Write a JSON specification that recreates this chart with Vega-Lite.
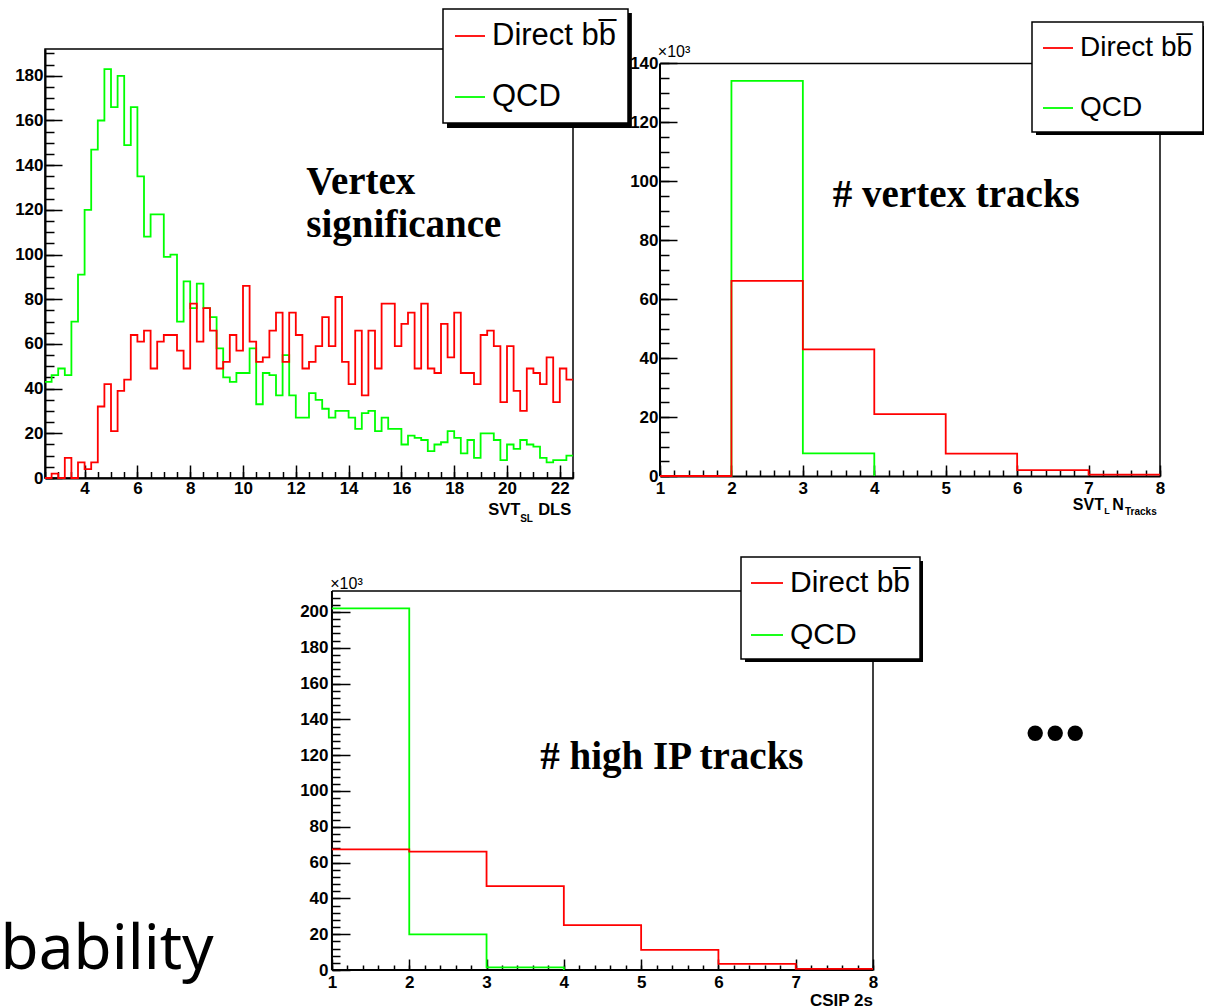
{
"$schema": "https://vega.github.io/schema/vega-lite/v6.json",
"padding": {"left": 0, "top": 7, "right": 0, "bottom": 0},
"background": "white",
"datasets": {
"vs": [
{"s":"QCD","x":2.5,"n":43},{"s":"QCD","x":2.75,"n":46},{"s":"QCD","x":3.0,"n":49},{"s":"QCD","x":3.25,"n":46},{"s":"QCD","x":3.5,"n":70},{"s":"QCD","x":3.75,"n":91},{"s":"QCD","x":4.0,"n":120},{"s":"QCD","x":4.25,"n":147},{"s":"QCD","x":4.5,"n":160},{"s":"QCD","x":4.75,"n":183},
{"s":"QCD","x":5.0,"n":166},{"s":"QCD","x":5.25,"n":180},{"s":"QCD","x":5.5,"n":149},{"s":"QCD","x":5.75,"n":166},{"s":"QCD","x":6.0,"n":135},{"s":"QCD","x":6.25,"n":108},{"s":"QCD","x":6.5,"n":118},{"s":"QCD","x":6.75,"n":118},{"s":"QCD","x":7.0,"n":99},{"s":"QCD","x":7.25,"n":100},
{"s":"QCD","x":7.5,"n":70},{"s":"QCD","x":7.75,"n":88},{"s":"QCD","x":8.0,"n":76},{"s":"QCD","x":8.25,"n":87},{"s":"QCD","x":8.5,"n":76},{"s":"QCD","x":8.75,"n":72},{"s":"QCD","x":9.0,"n":58},{"s":"QCD","x":9.25,"n":45},{"s":"QCD","x":9.5,"n":43},{"s":"QCD","x":9.75,"n":47},
{"s":"QCD","x":10.0,"n":47},{"s":"QCD","x":10.25,"n":58},{"s":"QCD","x":10.5,"n":33},{"s":"QCD","x":10.75,"n":47},{"s":"QCD","x":11.0,"n":46},{"s":"QCD","x":11.25,"n":37},{"s":"QCD","x":11.5,"n":55},{"s":"QCD","x":11.75,"n":37},{"s":"QCD","x":12.0,"n":27},{"s":"QCD","x":12.25,"n":27},
{"s":"QCD","x":12.5,"n":38},{"s":"QCD","x":12.75,"n":35},{"s":"QCD","x":13.0,"n":31},{"s":"QCD","x":13.25,"n":27},{"s":"QCD","x":13.5,"n":30},{"s":"QCD","x":13.75,"n":30},{"s":"QCD","x":14.0,"n":27},{"s":"QCD","x":14.25,"n":22},{"s":"QCD","x":14.5,"n":29},{"s":"QCD","x":14.75,"n":30},
{"s":"QCD","x":15.0,"n":21},{"s":"QCD","x":15.25,"n":27},{"s":"QCD","x":15.5,"n":22},{"s":"QCD","x":15.75,"n":22},{"s":"QCD","x":16.0,"n":15},{"s":"QCD","x":16.25,"n":19},{"s":"QCD","x":16.5,"n":18},{"s":"QCD","x":16.75,"n":17},{"s":"QCD","x":17.0,"n":12},{"s":"QCD","x":17.25,"n":15},
{"s":"QCD","x":17.5,"n":16},{"s":"QCD","x":17.75,"n":21},{"s":"QCD","x":18.0,"n":18},{"s":"QCD","x":18.25,"n":11},{"s":"QCD","x":18.5,"n":17},{"s":"QCD","x":18.75,"n":9},{"s":"QCD","x":19.0,"n":20},{"s":"QCD","x":19.25,"n":20},{"s":"QCD","x":19.5,"n":17},{"s":"QCD","x":19.75,"n":8},
{"s":"QCD","x":20.0,"n":15},{"s":"QCD","x":20.25,"n":13},{"s":"QCD","x":20.5,"n":17},{"s":"QCD","x":20.75,"n":15},{"s":"QCD","x":21.0,"n":14},{"s":"QCD","x":21.25,"n":9},{"s":"QCD","x":21.5,"n":7},{"s":"QCD","x":21.75,"n":8},{"s":"QCD","x":22.0,"n":8},{"s":"QCD","x":22.25,"n":10},{"s":"QCD","x":22.5,"n":10},
{"s":"Direct bb\u0305","x":2.5,"n":0},{"s":"Direct bb\u0305","x":2.75,"n":2},{"s":"Direct bb\u0305","x":3.0,"n":0},{"s":"Direct bb\u0305","x":3.25,"n":9},{"s":"Direct bb\u0305","x":3.5,"n":0},{"s":"Direct bb\u0305","x":3.75,"n":7},{"s":"Direct bb\u0305","x":4.0,"n":4},{"s":"Direct bb\u0305","x":4.25,"n":7},{"s":"Direct bb\u0305","x":4.5,"n":32},{"s":"Direct bb\u0305","x":4.75,"n":42},
{"s":"Direct bb\u0305","x":5.0,"n":21},{"s":"Direct bb\u0305","x":5.25,"n":39},{"s":"Direct bb\u0305","x":5.5,"n":44},{"s":"Direct bb\u0305","x":5.75,"n":64},{"s":"Direct bb\u0305","x":6.0,"n":61},{"s":"Direct bb\u0305","x":6.25,"n":66},{"s":"Direct bb\u0305","x":6.5,"n":49},{"s":"Direct bb\u0305","x":6.75,"n":61},{"s":"Direct bb\u0305","x":7.0,"n":64},{"s":"Direct bb\u0305","x":7.25,"n":64},
{"s":"Direct bb\u0305","x":7.5,"n":57},{"s":"Direct bb\u0305","x":7.75,"n":49},{"s":"Direct bb\u0305","x":8.0,"n":78},{"s":"Direct bb\u0305","x":8.25,"n":61},{"s":"Direct bb\u0305","x":8.5,"n":76},{"s":"Direct bb\u0305","x":8.75,"n":66},{"s":"Direct bb\u0305","x":9.0,"n":49},{"s":"Direct bb\u0305","x":9.25,"n":52},{"s":"Direct bb\u0305","x":9.5,"n":64},{"s":"Direct bb\u0305","x":9.75,"n":57},
{"s":"Direct bb\u0305","x":10.0,"n":86},{"s":"Direct bb\u0305","x":10.25,"n":61},{"s":"Direct bb\u0305","x":10.5,"n":52},{"s":"Direct bb\u0305","x":10.75,"n":54},{"s":"Direct bb\u0305","x":11.0,"n":66},{"s":"Direct bb\u0305","x":11.25,"n":74},{"s":"Direct bb\u0305","x":11.5,"n":52},{"s":"Direct bb\u0305","x":11.75,"n":74},{"s":"Direct bb\u0305","x":12.0,"n":64},{"s":"Direct bb\u0305","x":12.25,"n":49},
{"s":"Direct bb\u0305","x":12.5,"n":52},{"s":"Direct bb\u0305","x":12.75,"n":59},{"s":"Direct bb\u0305","x":13.0,"n":72},{"s":"Direct bb\u0305","x":13.25,"n":59},{"s":"Direct bb\u0305","x":13.5,"n":81},{"s":"Direct bb\u0305","x":13.75,"n":52},{"s":"Direct bb\u0305","x":14.0,"n":42},{"s":"Direct bb\u0305","x":14.25,"n":66},{"s":"Direct bb\u0305","x":14.5,"n":37},{"s":"Direct bb\u0305","x":14.75,"n":66},
{"s":"Direct bb\u0305","x":15.0,"n":49},{"s":"Direct bb\u0305","x":15.25,"n":78},{"s":"Direct bb\u0305","x":15.5,"n":78},{"s":"Direct bb\u0305","x":15.75,"n":59},{"s":"Direct bb\u0305","x":16.0,"n":69},{"s":"Direct bb\u0305","x":16.25,"n":74},{"s":"Direct bb\u0305","x":16.5,"n":49},{"s":"Direct bb\u0305","x":16.75,"n":78},{"s":"Direct bb\u0305","x":17.0,"n":49},{"s":"Direct bb\u0305","x":17.25,"n":47},
{"s":"Direct bb\u0305","x":17.5,"n":69},{"s":"Direct bb\u0305","x":17.75,"n":54},{"s":"Direct bb\u0305","x":18.0,"n":74},{"s":"Direct bb\u0305","x":18.25,"n":47},{"s":"Direct bb\u0305","x":18.5,"n":47},{"s":"Direct bb\u0305","x":18.75,"n":42},{"s":"Direct bb\u0305","x":19.0,"n":64},{"s":"Direct bb\u0305","x":19.25,"n":66},{"s":"Direct bb\u0305","x":19.5,"n":59},{"s":"Direct bb\u0305","x":19.75,"n":34},
{"s":"Direct bb\u0305","x":20.0,"n":59},{"s":"Direct bb\u0305","x":20.25,"n":39},{"s":"Direct bb\u0305","x":20.5,"n":30},{"s":"Direct bb\u0305","x":20.75,"n":49},{"s":"Direct bb\u0305","x":21.0,"n":47},{"s":"Direct bb\u0305","x":21.25,"n":42},{"s":"Direct bb\u0305","x":21.5,"n":54},{"s":"Direct bb\u0305","x":21.75,"n":34},{"s":"Direct bb\u0305","x":22.0,"n":49},{"s":"Direct bb\u0305","x":22.25,"n":44},{"s":"Direct bb\u0305","x":22.5,"n":44}
],
"vt": [
{"s":"QCD","x":1,"n":0},{"s":"QCD","x":2,"n":134.1},{"s":"QCD","x":3,"n":7.7},{"s":"QCD","x":4,"n":0},
{"s":"Direct bb\u0305","x":1,"n":0},{"s":"Direct bb\u0305","x":2,"n":66.2},{"s":"Direct bb\u0305","x":3,"n":43.0},{"s":"Direct bb\u0305","x":4,"n":21.0},{"s":"Direct bb\u0305","x":5,"n":7.6},{"s":"Direct bb\u0305","x":6,"n":2.0},{"s":"Direct bb\u0305","x":7,"n":0.5},{"s":"Direct bb\u0305","x":8,"n":0.5}
],
"ip": [
{"s":"QCD","x":1,"n":202},{"s":"QCD","x":2,"n":19.9},{"s":"QCD","x":3,"n":1.5},{"s":"QCD","x":4,"n":0},
{"s":"Direct bb\u0305","x":1,"n":67.4},{"s":"Direct bb\u0305","x":2,"n":66.1},{"s":"Direct bb\u0305","x":3,"n":46.9},{"s":"Direct bb\u0305","x":4,"n":25.1},{"s":"Direct bb\u0305","x":5,"n":11.2},{"s":"Direct bb\u0305","x":6,"n":3.4},{"s":"Direct bb\u0305","x":7,"n":0.6},{"s":"Direct bb\u0305","x":8,"n":0.6}
]
},
"config": {
"view": {"stroke": "black", "strokeWidth": 1.5},
"axis": {"grid": false, "domainColor": "black", "domainWidth": 2, "tickColor": "black", "tickWidth": 1.5, "labelColor": "black", "labelFont": "Liberation Sans", "labelFontWeight": "bold", "labelFontSize": 17, "labelFlush": false, "labelOverlap": false},
"legend": {"strokeColor": "black", "fillColor": "white", "strokeWidth": 1.5, "symbolType": "stroke", "symbolStrokeWidth": 1.8, "labelColor": "black", "cornerRadius": 0},
"line": {"strokeWidth": 1.8},
"text": {"color": "black"}
},
"spacing": 31,
"resolve": {"scale": {"color": "independent"}, "legend": {"color": "independent"}},
"vconcat": [
{
"bounds": "flush",
"spacing": 87,
"resolve": {"scale": {"color": "independent"}, "legend": {"color": "independent"}},
"hconcat": [
{
"width": 528, "height": 429,
"data": {"name": "vs"},
"resolve": {"axis": {"x": "independent", "y": "independent"}},
"layer": [
{
"data": {"values": [{}]},
"mark": {"type": "rect", "color": "black"},
"encoding": {"x": {"datum": 17.727, "type": "quantitative", "scale": {"domain": [2.5, 22.5], "nice": false, "zero": false}, "axis": null}, "x2": {"datum": 24.73}, "y": {"datum": 208.11, "type": "quantitative", "scale": {"domain": [0, 192], "nice": false, "zero": false}, "axis": null}, "y2": {"datum": 156.6}}
},
{
"transform": [{"filter": "datum.s == 'QCD'"}],
"mark": {"type": "line", "interpolate": "step-after"},
"encoding": {
"x": {"field": "x", "type": "quantitative", "scale": {"domain": [2.5, 22.5], "nice": false, "zero": false}, "axis": {"orient": "bottom", "title": null, "values": [4,6,8,10,12,14,16,18,20,22], "tickSize": -13, "labelPadding": 15}},
"y": {"field": "n", "type": "quantitative", "scale": {"domain": [0, 192], "nice": false, "zero": false}, "axis": {"orient": "left", "title": null, "values": [0,20,40,60,80,100,120,140,160,180], "tickSize": -17, "labelPadding": 19}},
"color": {"field": "s", "type": "nominal", "scale": {"domain": ["Direct bb\u0305", "QCD"], "range": ["#ff0000", "#00ff00"]}, "legend": {"title": null, "orient": "none", "legendX": 398, "legendY": -40, "labelFont": "Liberation Sans", "labelFontSize": 31, "symbolSize": 900, "rowPadding": 30, "padding": 11, "labelOffset": 6, "labelLimit": 400}}
}
},
{
"transform": [{"filter": "datum.s != 'QCD'"}],
"mark": {"type": "line", "interpolate": "step-after"},
"encoding": {
"x": {"field": "x", "type": "quantitative", "scale": {"domain": [2.5, 22.5], "nice": false, "zero": false}, "axis": {"orient": "bottom", "title": null, "values": [2.5,3,3.5,4,4.5,5,5.5,6,6.5,7,7.5,8,8.5,9,9.5,10,10.5,11,11.5,12,12.5,13,13.5,14,14.5,15,15.5,16,16.5,17,17.5,18,18.5,19,19.5,20,20.5,21,21.5,22,22.5], "tickSize": -6.5, "labels": false, "domain": false}},
"y": {"field": "n", "type": "quantitative", "scale": {"domain": [0, 192], "nice": false, "zero": false}, "axis": {"orient": "left", "title": null, "values": [0,5,10,15,20,25,30,35,40,45,50,55,60,65,70,75,80,85,90,95,100,105,110,115,120,125,130,135,140,145,150,155,160,165,170,175,180,185,190], "tickSize": -9, "labels": false, "domain": false}},
"color": {"field": "s", "type": "nominal", "scale": {"domain": ["Direct bb\u0305", "QCD"], "range": ["#ff0000", "#00ff00"]}, "legend": {"title": null, "orient": "none", "legendX": 398, "legendY": -40, "labelFont": "Liberation Sans", "labelFontSize": 31, "symbolSize": 900, "rowPadding": 30, "padding": 11, "labelOffset": 6, "labelLimit": 400}}
}
},
{
"data": {"values": [{}]},
"mark": {"type": "text", "text": ["Vertex", "significance"], "align": "left", "baseline": "alphabetic", "font": "Liberation Serif", "fontWeight": "bold", "fontSize": 39, "lineHeight": 43},
"encoding": {"x": {"datum": 12.4, "type": "quantitative", "scale": {"domain": [2.5, 22.5], "nice": false, "zero": false}, "axis": null}, "y": {"datum": 127.1, "type": "quantitative", "scale": {"domain": [0, 192], "nice": false, "zero": false}, "axis": null}}
},
{
"data": {"values": [{}]},
"mark": {"type": "text", "text": "SVT", "align": "left", "baseline": "alphabetic", "font": "Liberation Sans", "fontWeight": "bold", "fontSize": 16.5},
"encoding": {"x": {"datum": 19.29, "type": "quantitative", "scale": {"domain": [2.5, 22.5], "nice": false, "zero": false}, "axis": null}, "y": {"datum": -16.6, "type": "quantitative", "scale": {"domain": [0, 192], "nice": false, "zero": false}, "axis": null}}
},
{
"data": {"values": [{}]},
"mark": {"type": "text", "text": "SL", "align": "left", "baseline": "alphabetic", "font": "Liberation Sans", "fontWeight": "bold", "fontSize": 10},
"encoding": {"x": {"datum": 20.5, "type": "quantitative", "scale": {"domain": [2.5, 22.5], "nice": false, "zero": false}, "axis": null}, "y": {"datum": -19.7, "type": "quantitative", "scale": {"domain": [0, 192], "nice": false, "zero": false}, "axis": null}}
},
{
"data": {"values": [{}]},
"mark": {"type": "text", "text": "DLS", "align": "left", "baseline": "alphabetic", "font": "Liberation Sans", "fontWeight": "bold", "fontSize": 16.5},
"encoding": {"x": {"datum": 21.18, "type": "quantitative", "scale": {"domain": [2.5, 22.5], "nice": false, "zero": false}, "axis": null}, "y": {"datum": -16.6, "type": "quantitative", "scale": {"domain": [0, 192], "nice": false, "zero": false}, "axis": null}}
}
]
},
{
"width": 500, "height": 427,
"data": {"name": "vt"},
"view": {"stroke": null},
"resolve": {"axis": {"x": "independent", "y": "independent"}},
"layer": [
{
"data": {"values": [{}]},
"mark": {"type": "rect", "color": "black"},
"encoding": {"x": {"datum": 6.264, "type": "quantitative", "scale": {"domain": [1, 8], "nice": false, "zero": false}, "axis": null}, "x2": {"datum": 8.616}, "y": {"datum": 152.7, "type": "quantitative", "scale": {"domain": [0, 144.9], "nice": false, "zero": false}, "axis": null}, "y2": {"datum": 115.7}}
},
{
"data": {"values": [{}]},
"mark": {"type": "rule", "color": "black", "strokeWidth": 1.5},
"encoding": {"x": {"datum": 1, "type": "quantitative", "scale": {"domain": [1, 8], "nice": false, "zero": false}, "axis": null}, "x2": {"datum": 8}, "y": {"datum": 140, "type": "quantitative", "scale": {"domain": [0, 144.9], "nice": false, "zero": false}, "axis": null}}
},
{
"data": {"values": [{}]},
"mark": {"type": "rule", "color": "black", "strokeWidth": 1.5},
"encoding": {"x": {"datum": 8, "type": "quantitative", "scale": {"domain": [1, 8], "nice": false, "zero": false}, "axis": null}, "y": {"datum": 0, "type": "quantitative", "scale": {"domain": [0, 144.9], "nice": false, "zero": false}, "axis": null}, "y2": {"datum": 140}}
},
{
"data": {"values": [{}]},
"mark": {"type": "rule", "color": "black", "strokeWidth": 2},
"encoding": {"x": {"datum": 1, "type": "quantitative", "scale": {"domain": [1, 8], "nice": false, "zero": false}, "axis": null}, "y": {"datum": 0, "type": "quantitative", "scale": {"domain": [0, 144.9], "nice": false, "zero": false}, "axis": null}, "y2": {"datum": 140}}
},
{
"transform": [{"filter": "datum.s == 'QCD'"}],
"mark": {"type": "line", "interpolate": "step-after"},
"encoding": {
"x": {"field": "x", "type": "quantitative", "scale": {"domain": [1, 8], "nice": false, "zero": false}, "axis": {"orient": "bottom", "title": null, "values": [1,2,3,4,5,6,7,8], "tickSize": -11, "labelPadding": 15}},
"y": {"field": "n", "type": "quantitative", "scale": {"domain": [0, 144.9], "nice": false, "zero": false}, "axis": {"orient": "left", "title": null, "values": [0,20,40,60,80,100,120,140], "tickSize": -17, "labelPadding": 19, "domain": false}},
"color": {"field": "s", "type": "nominal", "scale": {"domain": ["Direct bb\u0305", "QCD"], "range": ["#ff0000", "#00ff00"]}, "legend": {"title": null, "orient": "none", "legendX": 372, "legendY": -27, "labelFont": "Liberation Sans", "labelFontSize": 28, "symbolSize": 900, "rowPadding": 30, "padding": 10, "labelOffset": 6, "labelLimit": 400}}
}
},
{
"transform": [{"filter": "datum.s != 'QCD'"}],
"mark": {"type": "line", "interpolate": "step-after"},
"encoding": {
"x": {"field": "x", "type": "quantitative", "scale": {"domain": [1, 8], "nice": false, "zero": false}, "axis": {"orient": "bottom", "title": null, "values": [1,1.2,1.4,1.6,1.8,2,2.2,2.4,2.6,2.8,3,3.2,3.4,3.6,3.8,4,4.2,4.4,4.6,4.8,5,5.2,5.4,5.6,5.8,6,6.2,6.4,6.6,6.8,7,7.2,7.4,7.6,7.8,8], "tickSize": -6, "labels": false, "domain": false}},
"y": {"field": "n", "type": "quantitative", "scale": {"domain": [0, 144.9], "nice": false, "zero": false}, "axis": {"orient": "left", "title": null, "values": [0,5,10,15,20,25,30,35,40,45,50,55,60,65,70,75,80,85,90,95,100,105,110,115,120,125,130,135,140], "tickSize": -9, "labels": false, "domain": false}},
"color": {"field": "s", "type": "nominal", "scale": {"domain": ["Direct bb\u0305", "QCD"], "range": ["#ff0000", "#00ff00"]}, "legend": {"title": null, "orient": "none", "legendX": 372, "legendY": -27, "labelFont": "Liberation Sans", "labelFontSize": 28, "symbolSize": 900, "rowPadding": 30, "padding": 10, "labelOffset": 6, "labelLimit": 400}}
}
},
{
"data": {"values": [{}]},
"mark": {"type": "text", "text": "# vertex tracks", "align": "left", "baseline": "alphabetic", "font": "Liberation Serif", "fontWeight": "bold", "fontSize": 39},
"encoding": {"x": {"datum": 3.42, "type": "quantitative", "scale": {"domain": [1, 8], "nice": false, "zero": false}, "axis": null}, "y": {"datum": 91.4, "type": "quantitative", "scale": {"domain": [0, 144.9], "nice": false, "zero": false}, "axis": null}}
},
{
"data": {"values": [{}]},
"mark": {"type": "text", "text": "\u00d710\u00b3", "align": "left", "baseline": "alphabetic", "font": "Liberation Sans", "fontSize": 16},
"encoding": {"x": {"datum": 0.97, "type": "quantitative", "scale": {"domain": [1, 8], "nice": false, "zero": false}, "axis": null}, "y": {"datum": 142.3, "type": "quantitative", "scale": {"domain": [0, 144.9], "nice": false, "zero": false}, "axis": null}}
},
{
"data": {"values": [{}]},
"mark": {"type": "text", "text": "SVT", "align": "left", "baseline": "alphabetic", "font": "Liberation Sans", "fontWeight": "bold", "fontSize": 16},
"encoding": {"x": {"datum": 6.78, "type": "quantitative", "scale": {"domain": [1, 8], "nice": false, "zero": false}, "axis": null}, "y": {"datum": -11.4, "type": "quantitative", "scale": {"domain": [0, 144.9], "nice": false, "zero": false}, "axis": null}}
},
{
"data": {"values": [{}]},
"mark": {"type": "text", "text": "L", "align": "left", "baseline": "alphabetic", "font": "Liberation Sans", "fontWeight": "bold", "fontSize": 9},
"encoding": {"x": {"datum": 7.22, "type": "quantitative", "scale": {"domain": [1, 8], "nice": false, "zero": false}, "axis": null}, "y": {"datum": -12.8, "type": "quantitative", "scale": {"domain": [0, 144.9], "nice": false, "zero": false}, "axis": null}}
},
{
"data": {"values": [{}]},
"mark": {"type": "text", "text": "N", "align": "left", "baseline": "alphabetic", "font": "Liberation Sans", "fontWeight": "bold", "fontSize": 16},
"encoding": {"x": {"datum": 7.33, "type": "quantitative", "scale": {"domain": [1, 8], "nice": false, "zero": false}, "axis": null}, "y": {"datum": -11.4, "type": "quantitative", "scale": {"domain": [0, 144.9], "nice": false, "zero": false}, "axis": null}}
},
{
"data": {"values": [{}]},
"mark": {"type": "text", "text": "Tracks", "align": "left", "baseline": "alphabetic", "font": "Liberation Sans", "fontWeight": "bold", "fontSize": 10},
"encoding": {"x": {"datum": 7.51, "type": "quantitative", "scale": {"domain": [1, 8], "nice": false, "zero": false}, "axis": null}, "y": {"datum": -13.1, "type": "quantitative", "scale": {"domain": [0, 144.9], "nice": false, "zero": false}, "axis": null}}
}
]
}
]
},
{
"width": 828, "height": 379,
"data": {"name": "ip"},
"view": {"stroke": null},
"resolve": {"axis": {"x": "independent", "y": "independent"}},
"layer": [
{
"data": {"values": [{}]},
"mark": {"type": "rect", "color": "black"},
"encoding": {"x": {"datum": 6.344, "type": "quantitative", "scale": {"domain": [-2.7128, 8], "nice": false, "zero": false}, "axis": null}, "x2": {"datum": 8.647}, "y": {"datum": 228.46, "type": "quantitative", "scale": {"domain": [0, 211.7], "nice": false, "zero": false}, "axis": null}, "y2": {"datum": 172.04}}
},
{
"data": {"values": [{}]},
"mark": {"type": "rule", "color": "black", "strokeWidth": 1.5},
"encoding": {"x": {"datum": 1, "type": "quantitative", "scale": {"domain": [-2.7128, 8], "nice": false, "zero": false}, "axis": null}, "x2": {"datum": 8}, "y": {"datum": 211.7, "type": "quantitative", "scale": {"domain": [0, 211.7], "nice": false, "zero": false}, "axis": null}}
},
{
"data": {"values": [{}]},
"mark": {"type": "rule", "color": "black", "strokeWidth": 1.5},
"encoding": {"x": {"datum": 8, "type": "quantitative", "scale": {"domain": [-2.7128, 8], "nice": false, "zero": false}, "axis": null}, "y": {"datum": 0, "type": "quantitative", "scale": {"domain": [0, 211.7], "nice": false, "zero": false}, "axis": null}, "y2": {"datum": 211.7}}
},
{
"data": {"values": [{}]},
"mark": {"type": "rule", "color": "black", "strokeWidth": 2},
"encoding": {"x": {"datum": 1, "type": "quantitative", "scale": {"domain": [-2.7128, 8], "nice": false, "zero": false}, "axis": null}, "y": {"datum": 0, "type": "quantitative", "scale": {"domain": [0, 211.7], "nice": false, "zero": false}, "axis": null}, "y2": {"datum": 211.7}}
},
{
"data": {"values": [{}]},
"mark": {"type": "rule", "color": "black", "strokeWidth": 2},
"encoding": {"x": {"datum": 1, "type": "quantitative", "scale": {"domain": [-2.7128, 8], "nice": false, "zero": false}, "axis": null}, "x2": {"datum": 8}, "y": {"datum": 0, "type": "quantitative", "scale": {"domain": [0, 211.7], "nice": false, "zero": false}, "axis": null}}
},
{
"transform": [{"filter": "datum.s == 'QCD'"}],
"mark": {"type": "line", "interpolate": "step-after"},
"encoding": {
"x": {"field": "x", "type": "quantitative", "scale": {"domain": [-2.7128, 8], "nice": false, "zero": false}, "axis": {"orient": "bottom", "title": null, "values": [1,2,3,4,5,6,7,8], "tickSize": -11, "labelPadding": 15, "domain": false}},
"y": {"field": "n", "type": "quantitative", "scale": {"domain": [0, 211.7], "nice": false, "zero": false}, "axis": {"orient": "left", "title": null, "values": [0,20,40,60,80,100,120,140,160,180,200], "tickSize": -18, "labelPadding": 22, "domain": false, "offset": -287}},
"color": {"field": "s", "type": "nominal", "scale": {"domain": ["Direct bb\u0305", "QCD"], "range": ["#ff0000", "#00ff00"]}, "legend": {"title": null, "orient": "none", "legendX": 696, "legendY": -34, "labelFont": "Liberation Sans", "labelFontSize": 30, "symbolSize": 1024, "rowPadding": 20, "padding": 9, "labelOffset": 6, "labelLimit": 400}}
}
},
{
"transform": [{"filter": "datum.s != 'QCD'"}],
"mark": {"type": "line", "interpolate": "step-after"},
"encoding": {
"x": {"field": "x", "type": "quantitative", "scale": {"domain": [-2.7128, 8], "nice": false, "zero": false}, "axis": {"orient": "bottom", "title": null, "values": [1,1.2,1.4,1.6,1.8,2,2.2,2.4,2.6,2.8,3,3.2,3.4,3.6,3.8,4,4.2,4.4,4.6,4.8,5,5.2,5.4,5.6,5.8,6,6.2,6.4,6.6,6.8,7,7.2,7.4,7.6,7.8,8], "tickSize": -5, "labels": false, "domain": false}},
"y": {"field": "n", "type": "quantitative", "scale": {"domain": [0, 211.7], "nice": false, "zero": false}, "axis": {"orient": "left", "title": null, "values": [0,4,8,12,16,20,24,28,32,36,40,44,48,52,56,60,64,68,72,76,80,84,88,92,96,100,104,108,112,116,120,124,128,132,136,140,144,148,152,156,160,164,168,172,176,180,184,188,192,196,200,204,208], "tickSize": -8, "labels": false, "domain": false, "offset": -287}},
"color": {"field": "s", "type": "nominal", "scale": {"domain": ["Direct bb\u0305", "QCD"], "range": ["#ff0000", "#00ff00"]}, "legend": {"title": null, "orient": "none", "legendX": 696, "legendY": -34, "labelFont": "Liberation Sans", "labelFontSize": 30, "symbolSize": 1024, "rowPadding": 20, "padding": 9, "labelOffset": 6, "labelLimit": 400}}
}
},
{
"data": {"values": [{}]},
"mark": {"type": "text", "text": "# high IP tracks", "align": "left", "baseline": "alphabetic", "font": "Liberation Serif", "fontWeight": "bold", "fontSize": 39},
"encoding": {"x": {"datum": 3.695, "type": "quantitative", "scale": {"domain": [-2.7128, 8], "nice": false, "zero": false}, "axis": null}, "y": {"datum": 112.4, "type": "quantitative", "scale": {"domain": [0, 211.7], "nice": false, "zero": false}, "axis": null}}
},
{
"data": {"values": [{}]},
"mark": {"type": "text", "text": "\u00d710\u00b3", "align": "left", "baseline": "alphabetic", "font": "Liberation Sans", "fontSize": 16},
"encoding": {"x": {"datum": 0.978, "type": "quantitative", "scale": {"domain": [-2.7128, 8], "nice": false, "zero": false}, "axis": null}, "y": {"datum": 213.0, "type": "quantitative", "scale": {"domain": [0, 211.7], "nice": false, "zero": false}, "axis": null}}
},
{
"data": {"values": [{}]},
"mark": {"type": "text", "text": "CSIP 2s", "align": "right", "baseline": "alphabetic", "font": "Liberation Sans", "fontWeight": "bold", "fontSize": 17},
"encoding": {"x": {"datum": 8.0, "type": "quantitative", "scale": {"domain": [-2.7128, 8], "nice": false, "zero": false}, "axis": null}, "y": {"datum": -19.9, "type": "quantitative", "scale": {"domain": [0, 211.7], "nice": false, "zero": false}, "axis": null}}
},
{
"data": {"values": [{}]},
"mark": {"type": "text", "text": "\u2022\u2022\u2022", "align": "center", "baseline": "middle", "font": "Liberation Sans", "fontSize": 57},
"encoding": {"x": {"datum": 10.357, "type": "quantitative", "scale": {"domain": [-2.7128, 8], "nice": false, "zero": false}, "axis": null}, "y": {"datum": 131.4, "type": "quantitative", "scale": {"domain": [0, 211.7], "nice": false, "zero": false}, "axis": null}}
},
{
"data": {"values": [{}]},
"mark": {"type": "text", "text": "bability", "align": "left", "baseline": "alphabetic", "font": "Noto Sans", "fontSize": 62},
"encoding": {"x": {"datum": -3.287, "type": "quantitative", "scale": {"domain": [-2.7128, 8], "nice": false, "zero": false}, "axis": null}, "y": {"datum": 0.73, "type": "quantitative", "scale": {"domain": [0, 211.7], "nice": false, "zero": false}, "axis": null}}
}
]
}
]
}
